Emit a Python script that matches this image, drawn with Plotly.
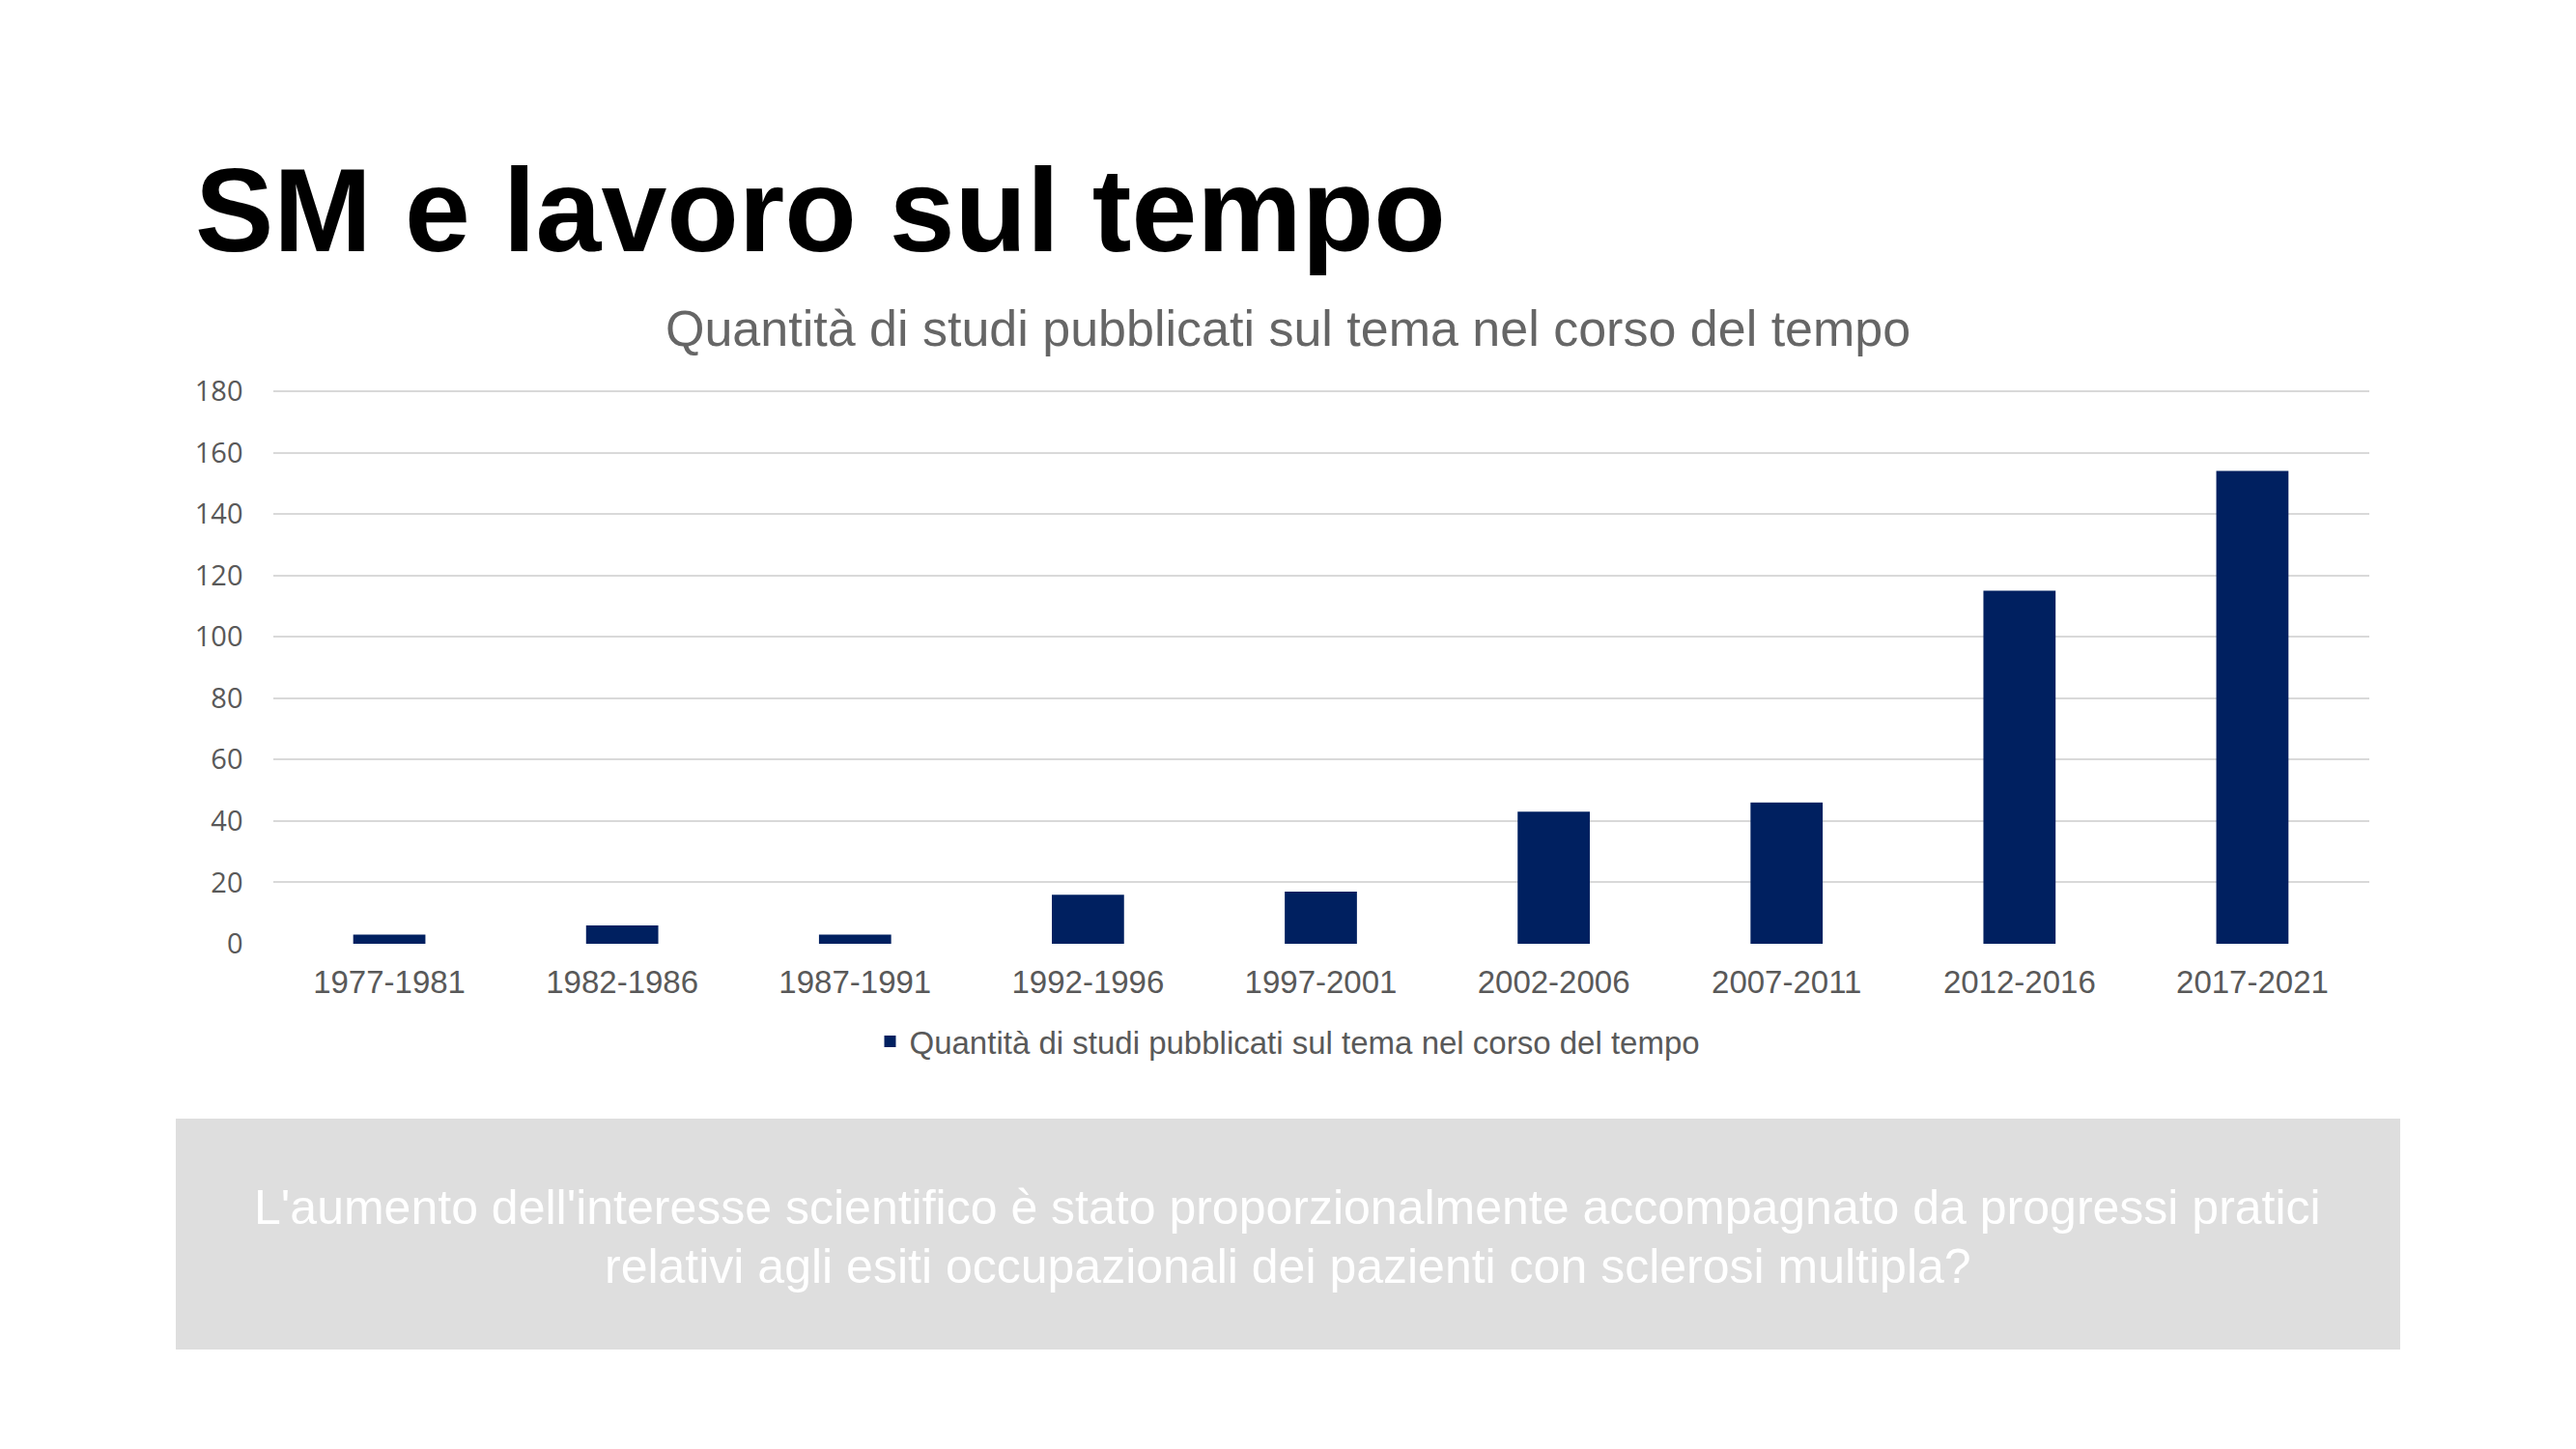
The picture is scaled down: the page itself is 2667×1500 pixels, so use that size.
import plotly.graph_objects as go

W, H = 2667, 1500

categories = ["1977-1981", "1982-1986", "1987-1991", "1992-1996", "1997-2001",
              "2002-2006", "2007-2011", "2012-2016", "2017-2021"]
values = [3, 6, 3, 16, 17, 43, 46, 115, 154]
series_name = "Quantità di studi pubblicati sul tema nel corso del tempo"
y_ticks = [0, 20, 40, 60, 80, 100, 120, 140, 160, 180]

slide_title = "SM e lavoro sul tempo"
chart_title = "Quantità di studi pubblicati sul tema nel corso del tempo"
box_lines = [
    "L'aumento dell'interesse scientifico è stato proporzionalmente accompagnato da progressi pratici",
    "relativi agli esiti occupazionali dei pazienti con sclerosi multipla?",
]


def px(x):
    return x / W


def py(y):
    return (H - y) / H


# plot area: value 0 at y=977 px, value 180 at y=405 px; range padded slightly
# so the top gridline (180) is drawn inside the plot area
Y_TOP = 181
pix_per_unit = (977 - 405) / 180
dom_top = 977 - Y_TOP * pix_per_unit

fig = go.Figure()
fig.add_trace(go.Bar(
    x=categories, y=values, name=series_name,
    marker=dict(color="#002060", line=dict(width=0)),
    showlegend=True,
))

annotations = [
    dict(text="<b>" + slide_title + "</b>", xref="paper", yref="paper",
         x=px(200), y=py(218), xanchor="left", yanchor="middle", showarrow=False,
         font=dict(family="Liberation Sans, Arial", size=122, color="#000000")),
    dict(text=chart_title, xref="paper", yref="paper",
         x=px(1333), y=py(340), xanchor="center", yanchor="middle", showarrow=False,
         font=dict(family="Liberation Sans, Arial", size=52, color="#666666")),
]
for line, yc in zip(box_lines, [1250, 1311]):
    annotations.append(dict(
        text=line, xref="paper", yref="paper",
        x=px(1333), y=py(yc), xanchor="center", yanchor="middle", showarrow=False,
        font=dict(family="Liberation Sans, Arial", size=50, color="#ffffff")))

fig.update_layout(
    width=W, height=H,
    margin=dict(l=0, r=0, t=0, b=0, autoexpand=False),
    paper_bgcolor="white", plot_bgcolor="white",
    bargap=0.69,
    showlegend=True,
    xaxis=dict(
        domain=[px(282.5), px(2452.5)],
        showgrid=False, zeroline=False, showline=False, automargin=False,
        tickfont=dict(family="Liberation Sans, Arial", size=33, color="#595959"),
        ticks="", ticklabelstandoff=17,
    ),
    yaxis=dict(
        domain=[py(977), py(dom_top)],
        range=[0, Y_TOP], tickvals=y_ticks, automargin=False,
        showgrid=True, gridcolor="#d9d9d9", gridwidth=2,
        zeroline=False, showline=False,
        tickfont=dict(family="Open Sans", size=29, color="#595959"),
        ticks="", ticklabelstandoff=30,
    ),
    legend=dict(
        orientation="h", x=0.5, xanchor="center", y=py(1078), yanchor="middle",
        font=dict(family="Liberation Sans, Arial", size=33, color="#595959"),
        bgcolor="rgba(0,0,0,0)", itemwidth=30,
    ),
    shapes=[dict(
        type="rect", xref="paper", yref="paper",
        x0=px(182), x1=px(2485), y0=py(1397), y1=py(1158),
        fillcolor="#dedede", line=dict(width=0), layer="below",
    )],
    annotations=annotations,
)

fig.write_html("out.html")
